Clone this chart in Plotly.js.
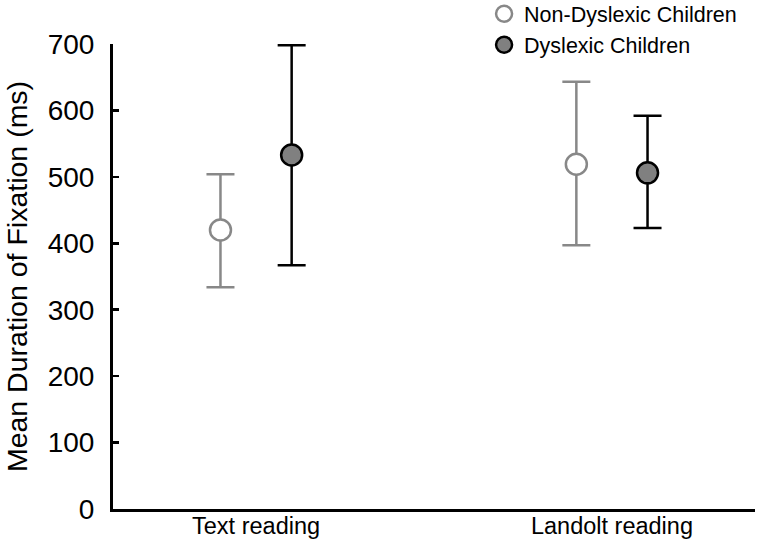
<!DOCTYPE html>
<html>
<head>
<meta charset="utf-8">
<script src="https://cdn.plot.ly/plotly-3.0.1.min.js"></script>
<style>html,body{margin:0;padding:0;background:#fff;}#chart{width:758px;height:542px;}</style>
</head>
<body>
<div id="chart"></div>
<script>
var categories = ["Text reading", "Landolt reading"];
var groups = ["Non-Dyslexic Children", "Dyslexic Children"];
var nonDysMean = [420, 519];
var nonDysUpper = [504, 643];
var nonDysLower = [334, 397];
var dysMean = [533, 506];
var dysUpper = [698, 592];
var dysLower = [367, 423];
var yTicks = [0, 100, 200, 300, 400, 500, 600, 700];

var catPos = categories.map(function (c, i) { return i + 1; });
var offset = 0.1;

function makeTrace(name, mean, upper, lower, dx, lineColor, fillColor) {
  return {
    type: 'scatter', mode: 'markers', name: name,
    x: catPos.map(function (p) { return p + dx; }),
    y: mean,
    error_y: {
      type: 'data', symmetric: false,
      array: upper.map(function (u, i) { return u - mean[i]; }),
      arrayminus: lower.map(function (l, i) { return mean[i] - l; }),
      color: lineColor, thickness: 2.5, width: 14
    },
    marker: { size: 21, color: fillColor, line: { color: lineColor, width: 2.5 } },
    cliponaxis: false
  };
}

var data = [
  makeTrace(groups[0], nonDysMean, nonDysUpper, nonDysLower, -offset, '#888888', '#ffffff'),
  makeTrace(groups[1], dysMean, dysUpper, dysLower, offset, '#000000', '#808080')
];

var layout = {
  width: 758, height: 542,
  margin: { l: 113, r: 3, t: 44, b: 33, pad: 0, autoexpand: false },
  paper_bgcolor: '#ffffff', plot_bgcolor: '#ffffff',
  font: { family: 'Liberation Sans, Arial, sans-serif', color: '#000000' },
  showlegend: true,
  legend: {
    x: 0.578, xanchor: 'left', y: 1.109, yanchor: 'top',
    font: { size: 21.5, color: '#000000' },
    bgcolor: 'rgba(0,0,0,0)'
  },
  xaxis: {
    range: [0.598, 2.402],
    tickvals: catPos, ticktext: categories,
    showline: true, linecolor: '#000000', linewidth: 3,
    ticks: '', showgrid: false, zeroline: false,
    ticklabelstandoff: -6,
    tickfont: { size: 23.5, color: '#000000' }
  },
  yaxis: {
    range: [0, 700],
    tickvals: yTicks,
    showline: true, linecolor: '#000000', linewidth: 3,
    ticks: 'inside', ticklen: 6, tickwidth: 2.5, tickcolor: '#000000',
    showgrid: false, zeroline: false,
    ticklabelstandoff: 10,
    tickfont: { size: 28, color: '#000000' },
    title: { text: 'Mean Duration of Fixation (ms)', font: { size: 28.5, color: '#000000' }, standoff: 12 }
  }
};

Plotly.newPlot('chart', data, layout, { staticPlot: true, displayModeBar: false });
</script>
</body>
</html>
